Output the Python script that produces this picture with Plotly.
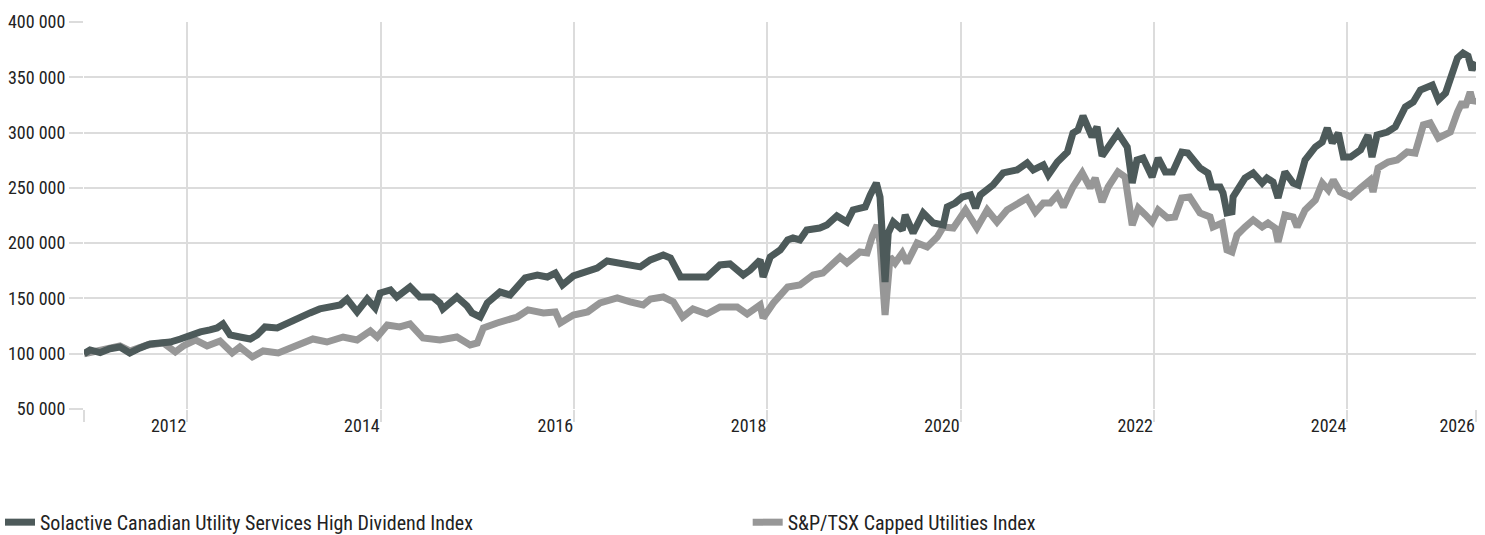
import plotly.graph_objects as go

# ---------------- data ----------------
dark_name = "Solactive Canadian Utility Services High Dividend Index"
gray_name = "S&P/TSX Capped Utilities Index"

dark_dates = [
    "2011-12-07", "2011-12-30", "2012-02-06", "2012-03-14", "2012-04-21", "2012-05-28", "2012-07-06",
    "2012-08-13", "2012-09-20", "2012-10-28", "2012-12-05", "2013-01-12", "2013-02-19", "2013-03-27",
    "2013-04-23", "2013-05-15", "2013-06-11", "2013-07-18", "2013-08-26", "2013-09-21", "2013-10-21",
    "2013-12-06", "2014-01-13", "2014-03-02", "2014-04-09", "2014-05-16", "2014-07-05", "2014-08-01",
    "2014-08-27", "2014-10-04", "2014-11-11", "2014-12-11", "2014-12-30", "2015-02-07", "2015-03-03",
    "2015-04-22", "2015-05-29", "2015-07-17", "2015-08-13", "2015-08-24", "2015-10-16", "2015-11-23",
    "2015-12-12", "2016-01-12", "2016-02-08", "2016-03-27", "2016-05-04", "2016-06-30", "2016-08-15",
    "2016-09-22", "2016-10-22", "2016-11-18", "2016-12-29", "2017-02-21", "2017-03-29", "2017-05-06",
    "2017-06-13", "2017-07-20", "2017-09-08", "2017-10-16", "2017-12-04", "2017-12-31", "2018-02-07",
    "2018-03-15", "2018-05-18", "2018-07-06", "2018-08-13", "2018-10-02", "2018-10-28", "2018-12-05",
    "2018-12-16", "2019-01-12", "2019-02-19", "2019-03-19", "2019-04-08", "2019-05-04", "2019-05-30",
    "2019-07-18", "2019-08-14", "2019-09-21", "2019-10-29", "2019-11-21", "2020-01-06", "2020-01-25",
    "2020-02-17", "2020-03-02", "2020-03-10", "2020-03-21", "2020-04-02", "2020-04-21", "2020-05-25",
    "2020-06-05", "2020-07-05", "2020-08-12", "2020-09-19", "2020-10-27", "2020-11-11", "2020-12-11",
    "2021-01-07", "2021-02-07", "2021-02-26", "2021-03-16", "2021-05-03", "2021-06-10", "2021-08-02",
    "2021-09-09", "2021-10-02", "2021-11-09", "2021-11-28", "2022-01-01", "2022-02-08", "2022-03-01",
    "2022-03-20", "2022-04-08", "2022-05-12", "2022-05-31", "2022-06-19", "2022-07-19", "2022-08-18",
    "2022-09-22", "2022-10-11", "2022-10-29", "2022-11-21", "2022-12-25", "2023-01-17", "2023-02-13",
    "2023-03-13", "2023-04-16", "2023-05-09", "2023-06-24", "2023-07-24", "2023-08-08", "2023-09-08",
    "2023-09-19", "2023-10-04", "2023-10-23", "2023-10-27", "2023-12-11", "2024-01-11", "2024-02-14",
    "2024-03-03", "2024-03-26", "2024-04-14", "2024-05-10", "2024-06-10", "2024-06-29", "2024-07-25",
    "2024-09-02", "2024-09-28", "2024-10-17", "2024-11-05", "2024-11-28", "2024-12-17", "2025-01-13",
    "2025-02-20", "2025-03-20", "2025-04-04", "2025-04-23", "2025-06-01", "2025-07-01", "2025-08-08",
    "2025-09-07", "2025-10-04", "2025-11-18", "2025-12-11", "2026-01-07", "2026-02-02", "2026-02-21",
    "2026-03-14", "2026-04-02", "2026-04-17", "2026-05-02",
]
dark_values = [
    100000, 103400, 101000, 104500, 106100, 100700, 105200,
    108800, 109700, 110600, 113300, 117000, 119700, 121500,
    123300, 126900, 117000, 115100, 113300, 117000, 124200,
    123300, 127800, 132300, 136900, 140500, 142300, 144100,
    149500, 137800, 149500, 141400, 154900, 157700, 151300,
    160400, 151300, 151300, 145900, 140500, 151300, 143200,
    136900, 133200, 145900, 155800, 153100, 168500, 171200,
    169400, 173000, 162200, 170300, 173900, 177500, 183900,
    182100, 180300, 178500, 184800, 189300, 186600, 169400,
    169400, 169400, 180300, 181200, 171200, 175700, 184800,
    169400, 187500, 193800, 202900, 204700, 202900, 211900,
    213700, 216400, 224600, 219100, 230000, 232700, 243600,
    254400, 241700, 211900, 164900, 209200, 219100, 211900,
    225500, 209200, 227300, 218200, 216400, 232700, 236300,
    241700, 243600, 231800, 243600, 252600, 263500, 266200,
    272500, 266200, 270700, 261700, 273400, 282400, 299600,
    302300, 315000, 296000, 305100, 278900, 290600, 299600,
    287000, 254400, 275200, 277000, 259800, 277000, 264400,
    264400, 282400, 281500, 268000, 263500, 250800, 250800,
    245400, 227300, 228200, 241800, 258900, 263500, 254400,
    258900, 255300, 240900, 264400, 254400, 252600, 275200,
    287000, 291500, 304100, 290600, 299600, 277900, 277900,
    284300, 297800, 277900, 297800, 300500, 305100, 323100,
    327700, 338500, 343000, 329500, 335800, 353900, 367500,
    372000, 369300, 356600, 363800,
]

gray_dates = [
    "2011-12-07", "2012-02-06", "2012-04-21", "2012-05-28", "2012-08-02", "2012-10-02", "2012-11-16",
    "2012-12-16", "2013-01-31", "2013-03-16", "2013-05-04", "2013-06-19", "2013-07-18", "2013-09-03",
    "2013-10-14", "2013-12-10", "2014-02-06", "2014-04-20", "2014-06-12", "2014-08-12", "2014-10-04",
    "2014-11-23", "2014-12-19", "2015-01-26", "2015-03-14", "2015-04-22", "2015-06-10", "2015-08-13",
    "2015-10-16", "2015-12-05", "2016-01-01", "2016-01-24", "2016-03-16", "2016-05-31", "2016-07-11",
    "2016-09-07", "2016-10-22", "2016-11-10", "2016-12-29", "2017-02-21", "2017-04-09", "2017-06-13",
    "2017-08-01", "2017-09-19", "2017-10-16", "2017-12-04", "2018-01-11", "2018-02-15", "2018-03-26",
    "2018-05-18", "2018-07-06", "2018-09-09", "2018-10-17", "2018-12-05", "2018-12-16", "2019-01-24",
    "2019-03-19", "2019-05-04", "2019-06-23", "2019-07-30", "2019-10-03", "2019-10-29", "2019-12-17",
    "2020-01-13", "2020-02-01", "2020-02-20", "2020-03-02", "2020-03-21", "2020-04-09", "2020-04-28",
    "2020-05-25", "2020-06-12", "2020-07-20", "2020-08-27", "2020-10-04", "2020-10-27", "2020-12-04",
    "2021-01-19", "2021-03-03", "2021-04-11", "2021-05-18", "2021-06-25", "2021-09-09", "2021-10-10",
    "2021-11-09", "2021-12-05", "2022-01-01", "2022-01-24", "2022-03-01", "2022-04-05", "2022-05-05",
    "2022-05-24", "2022-06-19", "2022-07-12", "2022-08-18", "2022-09-14", "2022-10-11", "2022-11-03",
    "2022-11-30", "2022-12-25", "2023-01-17", "2023-02-21", "2023-03-21", "2023-04-16", "2023-05-16",
    "2023-06-24", "2023-08-01", "2023-08-12", "2023-09-16", "2023-10-04", "2023-10-23", "2023-11-11",
    "2023-12-11", "2024-01-11", "2024-02-14", "2024-03-07", "2024-04-03", "2024-04-14", "2024-05-10",
    "2024-06-10", "2024-06-25", "2024-07-25", "2024-09-02", "2024-09-28", "2024-10-21", "2024-11-09",
    "2024-12-05", "2025-01-13", "2025-02-20", "2025-03-28", "2025-04-08", "2025-04-27", "2025-06-04",
    "2025-07-08", "2025-08-15", "2025-09-14", "2025-10-15", "2025-11-10", "2025-12-11", "2026-01-25",
    "2026-02-21", "2026-03-11", "2026-03-22", "2026-04-10", "2026-04-21", "2026-05-02",
]
gray_values = [
    100000, 103400, 107000, 102500, 107900, 109700, 101600,
    107000, 112400, 107000, 111500, 100700, 106100, 97100,
    102500, 100700, 106100, 113300, 110600, 115100, 112400,
    120600, 115100, 126000, 124200, 126900, 114200, 112400,
    115100, 107900, 109700, 123300, 127800, 133200, 139600,
    136900, 137800, 127800, 135000, 137800, 145900, 150400,
    146800, 144100, 149500, 151300, 146800, 133200, 140500,
    135900, 142300, 142300, 135900, 144100, 132300, 145900,
    160400, 162200, 171200, 173000, 187500, 182100, 192000,
    191100, 205600, 216400, 200100, 135000, 187500, 182100,
    191100, 182100, 200100, 196500, 205600, 214600, 213700,
    230000, 213700, 230000, 219100, 230000, 240800, 228200,
    236300, 236300, 243600, 232700, 250800, 263500, 249900,
    258900, 237200, 250800, 264400, 259800, 216300, 231800,
    225500, 219100, 230000, 222800, 223700, 240800, 241800,
    227300, 223700, 214600, 218200, 193800, 192000, 207400,
    214600, 221000, 214600, 218200, 213700, 201100, 225500,
    223700, 214600, 230000, 239000, 254400, 248100, 257100,
    246300, 241800, 249900, 257100, 246300, 268000, 273400,
    275200, 282400, 281500, 306900, 308700, 295100, 300500,
    318600, 327700, 323100, 336700, 326800, 331200,
]

y_ticks = [50000, 100000, 150000, 200000, 250000, 300000, 350000, 400000]
x_tick_dates = ["2011-12-07", "2013-01-01", "2015-01-01", "2017-01-01", "2019-01-01",
                "2021-01-01", "2023-01-01", "2025-01-01", "2026-05-02"]
x_tick_text = ["", "2012", "2014", "2016", "2018", "2020", "2022", "2024", "2026"]

# ---------------- style ----------------
FONT = "Roboto Condensed, Liberation Sans Narrow, DejaVu Sans Condensed, Roboto, sans-serif"
DARK = "#4d5a5a"
GRAY = "#979797"
GRID = "#dcdcdc"
TXT = "#222222"

fig = go.Figure()
fig.add_trace(go.Scatter(x=gray_dates, y=gray_values, mode="lines", name=gray_name,
                         legend="legend2",
                         line=dict(color=GRAY, width=7)))
fig.add_trace(go.Scatter(x=dark_dates, y=dark_values, mode="lines", name=dark_name,
                         legend="legend",
                         line=dict(color=DARK, width=7)))

legend_common = dict(orientation="h", xref="container", yref="container",
                     xanchor="left", yanchor="middle", y=0.024,
                     bgcolor="rgba(0,0,0,0)",
                     font=dict(family=FONT, size=20, color=TXT), itemwidth=30)

fig.update_layout(
    width=1485, height=535,
    margin=dict(l=84, r=9, t=22, b=126, autoexpand=False),
    paper_bgcolor="white", plot_bgcolor="white",
    font=dict(family=FONT, size=18, color=TXT),
    separators=". ",
    showlegend=True,
    legend=dict(x=-0.002, **legend_common),
    legend2=dict(x=0.5035, **legend_common),
)
fig.update_xaxes(
    type="date", automargin=False,
    range=[x_tick_dates[0], x_tick_dates[-1]],
    tickmode="array", tickvals=x_tick_dates, ticktext=x_tick_text,
    ticklabelposition="outside left",
    showgrid=True, gridcolor=GRID, gridwidth=2,
    ticks="outside", ticklen=12, tickwidth=2, tickcolor=GRID,
    showline=False, zeroline=False,
    tickfont=dict(family=FONT, size=18, color=TXT),
)
fig.update_yaxes(
    automargin=False,
    range=[50000, 400000],
    tickmode="array", tickvals=y_ticks,
    tickformat=",d",
    showgrid=True, gridcolor=GRID, gridwidth=2,
    ticks="outside", ticklen=14, tickwidth=2, tickcolor=GRID,
    showline=False, zeroline=False,
    tickfont=dict(family=FONT, size=18, color=TXT),
)

fig.write_html("out.html",
               config={"displayModeBar": False},
               post_script="document.body.style.margin='0';document.body.style.padding='0';")
